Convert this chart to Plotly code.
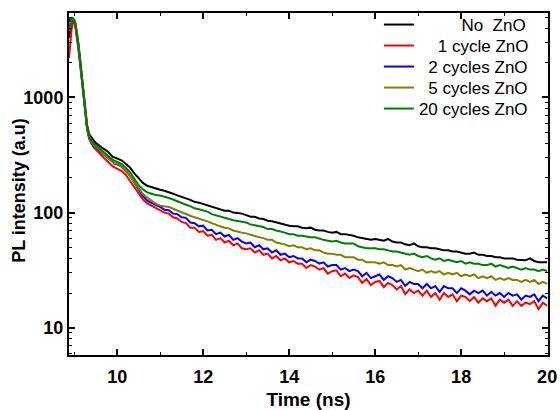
import plotly.graph_objects as go

# ---------------- data ----------------
time_ns = [8.88, 8.91, 8.94, 8.97, 9.00, 9.03, 9.06, 9.09, 9.12, 9.15, 9.18, 9.21, 9.25,
           9.30, 9.35, 9.40, 9.45, 9.50, 9.55, 9.60, 9.65, 9.70, 9.75, 9.80, 9.85, 9.90, 9.95,
           10.0, 10.1, 10.2, 10.3, 10.4, 10.5, 10.6, 10.7, 10.8, 10.9,
           11.0, 11.1, 11.2, 11.3, 11.4, 11.5, 11.6, 11.7, 11.8, 11.9,
           12.0, 12.1, 12.2, 12.3, 12.4, 12.5, 12.6, 12.7, 12.8, 12.9,
           13.0, 13.1, 13.2, 13.3, 13.4, 13.5, 13.6, 13.7, 13.8, 13.9,
           14.0, 14.1, 14.2, 14.3, 14.4, 14.5, 14.6, 14.7, 14.8, 14.9,
           15.0, 15.1, 15.2, 15.3, 15.4, 15.5, 15.6, 15.7, 15.8, 15.9,
           16.0, 16.1, 16.2, 16.3, 16.4, 16.5, 16.6, 16.7, 16.8, 16.9,
           17.0, 17.1, 17.2, 17.3, 17.4, 17.5, 17.6, 17.7, 17.8, 17.9,
           18.0, 18.1, 18.2, 18.3, 18.4, 18.5, 18.6, 18.7, 18.8, 18.9,
           19.0, 19.1, 19.2, 19.3, 19.4, 19.5, 19.6, 19.7, 19.8, 19.9,
           20.0]

no_zno = [3300, 4100, 4650, 4800, 4700, 4300, 3750, 3050, 2450, 1900, 1480, 1130, 820,
          580, 480, 445, 425, 405, 390, 375, 365, 356, 346, 334, 318, 305, 300,
          295, 285, 266, 246, 219, 197, 181, 171, 166, 161,
          158, 155, 151, 146, 141, 136, 133, 129, 124, 122,
          119, 116, 112, 109, 107, 104, 104, 100, 99, 98,
          95, 92, 92, 89, 88, 85, 84, 82, 81, 79,
          77, 76, 76, 74, 73, 74, 71, 70, 70, 68,
          67, 68, 65, 65, 64, 63, 61, 60, 59, 58,
          59, 58, 57, 59, 56, 55, 55, 53, 52, 54,
          51, 50, 50, 49, 49, 48, 47, 47, 46, 46,
          45, 44, 44, 45, 43, 43, 42, 42, 41, 41,
          40, 40, 40, 39, 39, 38.5, 40, 38, 37, 37,
          37]

cycle1 = [2200, 3000, 3900, 4500, 4700, 4450, 3850, 3150, 2500, 1900, 1450, 1080, 770,
          535, 435, 395, 372, 355, 338, 323, 310, 297, 285, 273, 262, 252, 246,
          242, 231, 213, 189, 164, 146, 130, 120, 115, 109,
          106, 100, 98, 91, 89, 83, 81, 74, 74, 68,
          69, 63, 64, 58, 60, 55, 57, 52, 54, 49,
          48, 49, 45, 47, 43, 44, 40, 42, 38.5, 40,
          37, 38, 36, 36, 33, 35, 34, 32, 33, 29.5,
          31, 31.5, 28, 29.5, 27, 28.5, 27.5, 24.5, 26.5, 23.5,
          25, 25.5, 22.5, 24.5, 23.5, 21.5, 23, 19.5, 21.5, 20,
          21, 19, 21, 18.5, 20, 17.5, 20, 18.5, 19.5, 17,
          19, 18.5, 17, 18.5, 16.5, 18, 17, 18, 15.5, 17.5,
          16.5, 17.5, 15.5, 17, 15.5, 16.5, 16, 17, 14.5, 16.5,
          15.5]

cycles2 = [4500, 4850, 4900, 4750, 4500, 4050, 3450, 2800, 2250, 1750, 1360, 1040, 760,
           540, 445, 405, 385, 368, 354, 341, 329, 317, 305, 293, 281, 270, 265,
           263, 251, 229, 209, 182, 158, 139, 127, 121, 116,
           112, 106, 105, 98, 97, 91, 90, 82, 81, 76,
           77, 70, 71, 65, 67, 62, 64, 58, 60, 56,
           54, 55, 50, 52, 48, 49, 45, 47, 43, 44,
           41, 42, 40, 40, 37, 39, 38, 36, 37, 34,
           35, 35, 32, 33, 31, 32, 31, 28, 30, 27,
           28, 29, 26, 28, 27, 25, 26, 23, 25, 24,
           24, 22, 24, 22, 23, 20.5, 23, 22, 22, 20,
           22, 21, 19.5, 21, 20, 21, 19, 20.5, 19, 20,
           18.5, 20, 19, 19.5, 17.5, 19, 18.5, 19.5, 17, 19,
           18]

cycles5 = [3800, 4450, 4750, 4850, 4700, 4250, 3650, 2950, 2350, 1800, 1400, 1060, 770,
           545, 450, 410, 390, 373, 358, 345, 333, 320, 308, 296, 284, 273, 268,
           266, 254, 231, 209, 184, 162, 145, 135, 126, 119,
           115, 114, 112, 108, 104, 101, 98, 94, 91, 89,
           86, 84, 81, 78, 76, 74, 73, 70, 69, 67,
           66, 64, 62, 61, 60, 58, 58, 55, 54, 53,
           51, 52, 50, 50, 48, 49, 47, 47, 45, 44,
           44, 43, 43, 41, 41, 41, 39, 39, 37, 37,
           37, 36, 37, 35, 35, 34, 35, 32, 33, 32,
           31, 32, 30, 31, 30, 31, 29, 30, 29, 30,
           28, 29, 28, 29, 27, 28, 27, 28, 26, 27,
           26, 27, 26, 26, 25, 26, 25, 26, 24, 25,
           24]

cycles20 = [3900, 4500, 4800, 4900, 4750, 4300, 3700, 3000, 2400, 1850, 1430, 1090, 790,
            560, 460, 420, 400, 385, 370, 357, 345, 333, 322, 310, 298, 287, 281,
            277, 265, 245, 224, 197, 173, 159, 150, 146, 142,
            141, 138, 134, 130, 125, 121, 117, 114, 109, 107,
            105, 102, 97, 95, 93, 90, 88, 86, 85, 83,
            82, 79, 78, 76, 75, 72, 72, 70, 69, 67,
            65, 65, 63, 63, 62, 61, 61, 59, 58, 57,
            56, 57, 55, 54, 54, 54, 51, 50, 49, 49,
            49, 48, 48, 47, 46, 46, 45, 44, 43, 44,
            42, 41, 42, 40, 39, 40, 38, 39, 38, 37,
            38, 36, 37, 36, 36, 35, 35, 36, 34, 35,
            34, 33, 34, 33, 32, 33, 32, 32, 31, 32,
            31]

NB = "\u00a0"  # non-breaking space, used to right-align the legend labels
series_names = [NB * 9 + "No" + NB + " ZnO", NB * 4 + "1 cycle ZnO", NB * 2 + "2 cycles ZnO",
                NB * 2 + "5 cycles ZnO", "20 cycles ZnO"]
series_values = [no_zno, cycle1, cycles2, cycles5, cycles20]
series_colors = ["#000000", "#ff0000", "#0000ff", "#808000", "#008000"]

x_tick_vals = [10, 12, 14, 16, 18, 20]
y_tick_vals = [10, 100, 1000]
y_tick_text = ["10", "100", "1000"]

# ---------------- figure ----------------
FONT = "Arial, 'Liberation Sans', sans-serif"
W, H = 560, 410
M_L, M_R, M_T, M_B = 69, 12, 13, 55
plot_w = W - M_L - M_R
plot_h = H - M_T - M_B
legend_rows_px = [25, 46, 67, 88, 109]   # vertical centre of each legend row
legend_keys = ["legend", "legend2", "legend3", "legend4", "legend5"]

fig = go.Figure()
for name, vals, col, lk in zip(series_names, series_values, series_colors, legend_keys):
    fig.add_trace(go.Scatter(x=time_ns, y=vals, mode="lines", name=name,
                             line=dict(color=col, width=2), legend=lk))

y_minor = [6, 7, 8, 9, 20, 30, 40, 50, 60, 70, 80, 90,
           200, 300, 400, 500, 600, 700, 800, 900, 2000, 3000, 4000, 5000]

legend_layout = {}
for lk, row in zip(legend_keys, legend_rows_px):
    legend_layout[lk] = dict(x=0.647, y=1 - (row - M_T) / plot_h,
                             xanchor="left", yanchor="middle",
                             bgcolor="rgba(0,0,0,0)", borderwidth=0,
                             font=dict(family=FONT, size=17, color="black"),
                             itemwidth=30)

fig.update_layout(
    width=W, height=H,
    margin=dict(l=M_L, r=M_R, t=M_T, b=M_B, autoexpand=False),
    paper_bgcolor="white", plot_bgcolor="white",
    font=dict(family=FONT, color="black"),
    showlegend=True,
    xaxis=dict(range=[8.88, 20.02], tickvals=x_tick_vals, automargin=False,
               ticks="inside", ticklen=6, tickwidth=1.5, tickcolor="black",
               ticklabelstandoff=4,
               minor=dict(ticks="inside", ticklen=3, tickwidth=1.2, tickcolor="black",
                          tickvals=[9, 11, 13, 15, 17, 19]),
               showline=True, linewidth=2, linecolor="black", mirror="ticks",
               showgrid=False, zeroline=False,
               tickfont=dict(family=FONT, size=18, color="black", weight="bold"),
               title=dict(text="<b>Time (ns)</b>", font=dict(family=FONT, size=19),
                          standoff=8)),
    yaxis=dict(type="log", range=[0.763, 3.734], tickvals=y_tick_vals, ticktext=y_tick_text,
               automargin=False,
               ticks="inside", ticklen=6, tickwidth=1.5, tickcolor="black",
               minor=dict(ticks="inside", ticklen=3, tickwidth=1.2, tickcolor="black",
                          tickvals=y_minor),
               showline=True, linewidth=2, linecolor="black", mirror="ticks",
               showgrid=False, zeroline=False,
               tickfont=dict(family=FONT, size=18, color="black", weight="bold")),
    annotations=[dict(text="<b>PL intensity (a.u)</b>", textangle=-90,
                      xref="paper", yref="paper", x=(19 - M_L) / plot_w, y=0.48,
                      xanchor="center", yanchor="middle", showarrow=False,
                      font=dict(family=FONT, size=18, color="black"))],
    **legend_layout,
)

fig.write_html("out.html",
               config={"displayModeBar": False},
               post_script="document.body.style.margin='0';"
                           "document.body.style.overflow='hidden';")
